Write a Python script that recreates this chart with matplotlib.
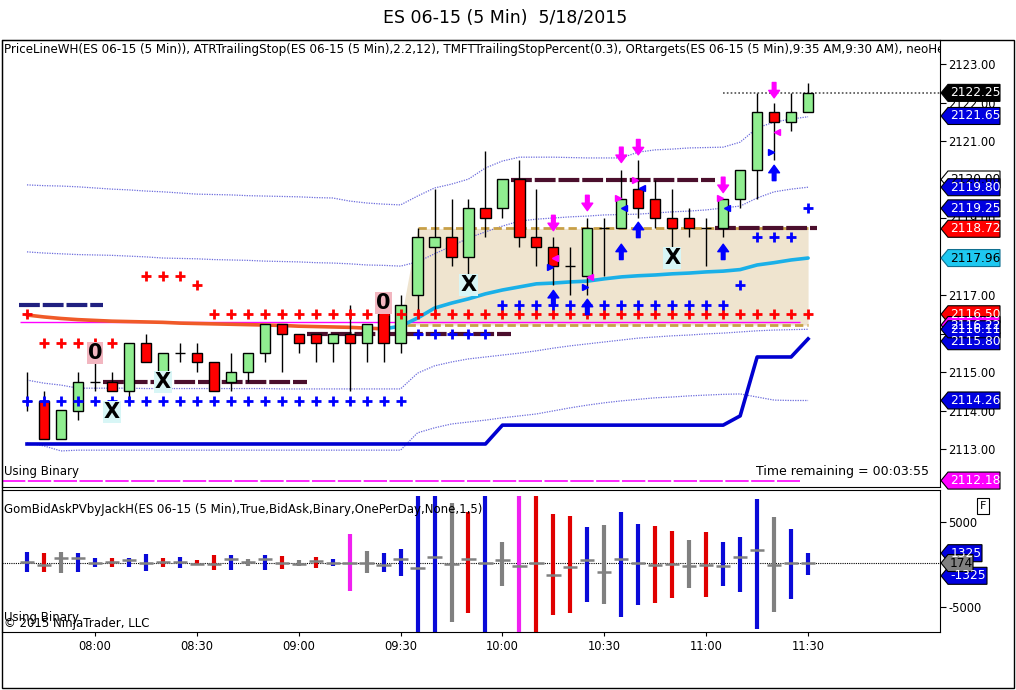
import matplotlib
matplotlib.use("Agg")
import matplotlib.pyplot as plt
import numpy as np
from matplotlib.patches import Rectangle, Polygon
from matplotlib.transforms import blended_transform_factory

plt.rcParams['font.family'] = ['DejaVu Sans']

# ---- price bars, 5 min, 07:40 .. 11:30 ----
opens = [2114.25, 2114.25, 2113.25, 2114.0, 2114.75, 2114.75, 2114.5, 2115.75, 2115.0, 2115.5,
         2115.5, 2115.25, 2114.75, 2115.0, 2115.5, 2116.25, 2116.0, 2116.0, 2115.75, 2116.0,
         2115.75, 2116.5, 2115.75, 2117.0, 2118.25, 2118.5, 2118.0, 2119.25, 2119.25, 2120.0,
         2118.5, 2118.25, 2117.75, 2117.5, 2118.75, 2118.75, 2119.75, 2119.5, 2119.0, 2119.0,
         2118.75, 2118.75, 2119.5, 2120.25, 2121.75, 2121.5, 2121.75]
highs = [2115.0, 2114.5, 2114.0, 2115.0, 2115.25, 2115.0, 2115.75, 2116.0, 2115.5, 2115.75,
         2115.75, 2115.25, 2115.5, 2115.5, 2116.25, 2116.25, 2116.0, 2116.0, 2116.0, 2116.75,
         2116.25, 2116.5, 2117.0, 2118.75, 2119.75, 2119.5, 2119.5, 2120.75, 2120.0, 2120.5,
         2119.75, 2118.5, 2118.25, 2119.0, 2119.0, 2120.25, 2120.5, 2120.0, 2119.75, 2119.25,
         2119.0, 2119.5, 2120.25, 2122.25, 2122.0, 2122.25, 2122.5]
lows = [2114.0, 2113.25, 2113.25, 2113.75, 2114.5, 2114.5, 2114.25, 2115.25, 2114.75, 2115.25,
        2115.0, 2114.5, 2114.5, 2114.75, 2115.25, 2115.0, 2115.5, 2115.25, 2115.25, 2114.5,
        2115.25, 2115.25, 2115.5, 2116.5, 2116.5, 2117.75, 2117.0, 2118.5, 2119.0, 2118.25,
        2117.75, 2117.25, 2117.0, 2117.0, 2117.5, 2118.75, 2119.0, 2118.75, 2118.0, 2118.5,
        2117.75, 2118.5, 2119.25, 2119.5, 2120.5, 2121.25, 2121.75]
closes = [2114.25, 2113.25, 2114.0, 2114.75, 2114.75, 2114.5, 2115.75, 2115.25, 2115.5, 2115.5,
          2115.25, 2114.5, 2115.0, 2115.5, 2116.25, 2116.0, 2115.75, 2115.75, 2116.0, 2115.75,
          2116.25, 2115.75, 2116.75, 2118.5, 2118.5, 2118.0, 2119.25, 2119.0, 2120.0, 2118.5,
          2118.25, 2117.75, 2117.75, 2118.75, 2118.75, 2119.5, 2119.25, 2119.0, 2118.75, 2118.75,
          2118.75, 2119.5, 2120.25, 2121.75, 2121.5, 2121.75, 2122.25]

tick_bars = [4, 10, 16, 22, 28, 34, 40, 46]
tick_labels = ['08:00', '08:30', '09:00', '09:30', '10:00', '10:30', '11:00', '11:30']

# ---- bands (dotted) ----
outer_upper = [2119.86, 2119.84, 2119.83, 2119.81, 2119.78, 2119.75, 2119.73, 2119.70, 2119.68, 2119.65,
               2119.62, 2119.61, 2119.60, 2119.58, 2119.57, 2119.56, 2119.55, 2119.53, 2119.52, 2119.44,
               2119.39, 2119.36, 2119.34, 2119.57, 2119.78, 2119.88, 2120.01, 2120.30, 2120.48, 2120.58,
               2120.58, 2120.58, 2120.57, 2120.56, 2120.56, 2120.56, 2120.71, 2120.77, 2120.79, 2120.82,
               2120.83, 2120.84, 2120.97, 2121.34, 2121.49, 2121.57, 2121.63]
inner_upper = [2118.12, 2118.09, 2118.07, 2118.05, 2118.04, 2118.03, 2118.01, 2117.99, 2117.96, 2117.95,
               2117.94, 2117.92, 2117.91, 2117.90, 2117.88, 2117.87, 2117.86, 2117.84, 2117.83, 2117.81,
               2117.78, 2117.77, 2117.75, 2117.86, 2118.07, 2118.27, 2118.48, 2118.64, 2118.79, 2118.92,
               2118.97, 2119.00, 2119.03, 2119.05, 2119.08, 2119.09, 2119.10, 2119.13, 2119.16, 2119.18,
               2119.21, 2119.26, 2119.31, 2119.52, 2119.68, 2119.75, 2119.80]
inner_lower = [2114.79, 2114.71, 2114.66, 2114.58, 2114.58, 2114.58, 2114.58, 2114.57, 2114.57, 2114.57,
               2114.57, 2114.57, 2114.57, 2114.57, 2114.57, 2114.56, 2114.56, 2114.56, 2114.56, 2114.56,
               2114.56, 2114.56, 2114.56, 2114.97, 2115.16, 2115.26, 2115.34, 2115.39, 2115.44, 2115.49,
               2115.55, 2115.62, 2115.68, 2115.73, 2115.78, 2115.83, 2115.88, 2115.91, 2115.94, 2115.96,
               2115.99, 2116.01, 2116.04, 2116.07, 2116.09, 2116.10, 2116.11]
outer_lower = [2113.16, 2113.08, 2112.95, 2112.97, 2112.97, 2112.97, 2112.97, 2112.97, 2112.97, 2112.97,
               2112.97, 2112.97, 2112.97, 2112.97, 2112.97, 2112.97, 2112.97, 2112.97, 2112.97, 2112.97,
               2112.97, 2112.97, 2112.97, 2113.42, 2113.55, 2113.65, 2113.70, 2113.75, 2113.81, 2113.86,
               2113.91, 2113.99, 2114.07, 2114.14, 2114.20, 2114.25, 2114.29, 2114.33, 2114.35, 2114.38,
               2114.40, 2114.42, 2114.43, 2114.35, 2114.27, 2114.26, 2114.26]

# moving average: falling part orange, rising part cyan (split at bar 21)
avg_line = [2116.48, 2116.43, 2116.39, 2116.36, 2116.34, 2116.32, 2116.31, 2116.30, 2116.29, 2116.27,
            2116.26, 2116.25, 2116.24, 2116.23, 2116.22, 2116.21, 2116.19, 2116.18, 2116.17, 2116.16,
            2116.14, 2116.12, 2116.19, 2116.40, 2116.66, 2116.79, 2116.90, 2117.03, 2117.13, 2117.21,
            2117.29, 2117.31, 2117.34, 2117.36, 2117.42, 2117.47, 2117.50, 2117.52, 2117.55, 2117.57,
            2117.60, 2117.62, 2117.66, 2117.78, 2117.84, 2117.91, 2117.96]
avg_split = 21

# ATR trailing stop (thick blue)
atr_stop = [2113.13] * 28 + [2113.62] * 14 + [2113.86, 2115.39, 2115.39, 2115.39, 2115.86]

# trailing stop crosses
nan = np.nan
blue_cross = [2114.25] * 23 + [2116.0] * 5 + [2116.75] * 14 + [2117.25, 2118.5, 2118.5, 2118.5, 2119.25]
red_cross = ([2116.5] + [2115.75] * 5 + [nan] + [2117.5] * 3 + [2117.25] + [2116.5] * 36)

# hourly price lines
pl_levels = [2116.75, 2114.75, 2116.0, 2120.0, 2118.73]
pl_start = [-0.5, 4.5, 16.5, 28.5, 40.5]
pl_end = [4.5, 16.5, 28.5, 40.5, 46.5]

# opening range
or_bars = list(range(22, 47))
or_high = [2116.3] + [2118.73] * 24
or_low = 2116.22
magenta_level = 2116.30
magenta_low = 2112.18
last_price = 2122.25

# markers
x_bars = [5, 8, 26, 38]
x_prices = [2113.96, 2114.74, 2117.26, 2117.96]
zero_bars = [4, 21]
zero_prices = [2115.49, 2116.79]
down_bars = [31, 33, 35, 36, 41, 44]
down_prices = [2118.87, 2119.39, 2120.64, 2120.84, 2119.86, 2122.32]
up_bars = [31, 33, 35, 36, 41, 44]
up_prices = [2116.92, 2116.69, 2118.12, 2118.69, 2118.12, 2120.17]
tri_pos = [34.81, 35.81, 40.81, 35.16, 36.22, 41.22, 31.10, 30.80, 33.16, 32.86, 44.17, 43.82]
tri_prices = [2119.52, 2119.99, 2119.52, 2119.26, 2119.78, 2119.26, 2117.96, 2117.73,
              2117.47, 2117.21, 2121.23, 2120.71]
tri_kind = ['m>', 'm>', 'm>', 'b<', 'b<', 'b<', 'm<', 'b>', 'm<', 'b>', 'm<', 'b>']

# right axis value flags
flag_values = [2112.18, 2114.26, 2116.50, 2116.22, 2115.80, 2116.11, 2117.96, 2118.72,
               2120.00, 2119.25, 2119.80, 2121.65, 2122.25]
flag_colors = ['#ff00ff', '#0000e0', '#ff0000', '#ff00ff', '#0000e0', '#0000e0', '#1ec8f0', '#ff0000',
               'white', '#0000e0', '#0000e0', '#0000e0', 'black']
flag_text = ['white', 'white', 'white', 'white', 'white', 'white', 'black', 'white',
             'black', 'white', 'white', 'white', 'white']

# ---- bid/ask volume panel ----
bid_top = [1500, 1313, 1500, 1313, 727, 727, 727, 1195, 727, 844,
           527, 1113, 1113, 645, 1113, 996, 527, 914, 645, 3540,
           1582, 1313, 1817, 8000, 8000, 7173, 6188, 8000, 2602, 8000,
           8000, 5919, 5719, 4395, 4594, 6200, 4723, 4512, 3915, 2836,
           3797, 2602, 3200, 7641, 5602, 4196, 1313]
bid_bot = [-914, -844, -1031, -844, -258, -258, -258, -727, -258, -375,
           23, -645, -645, -176, -645, -527, -176, -375, -141, -3106,
           -1031, -844, -1313, -8000, -8000, -6704, -5719, -8000, -2485, -8000,
           -8000, -5883, -5684, -4360, -4606, -6165, -4688, -4477, -3880, -2766,
           -3762, -2567, -3165, -7559, -5567, -4079, -1207]
bid_mark = [328, -59, 797, 797, 211, 328, 527, 211, 328, 328,
            59, 59, 609, 328, 609, 211, 59, 445, 211, 211,
            211, -59, 609, -445, 914, 59, 645, 211, 516, -164,
            199, -1207, -281, 516, -879, 598, 199, 0, 117, -164,
            0, -164, 832, 1723, 0, 199, 199]
bid_kind = ['b', 'r', 'g', 'b', 'b', 'r', 'b', 'b', 'r', 'b',
            'r', 'r', 'b', 'g', 'b', 'r', 'g', 'r', 'b', 'm',
            'g', 'b', 'b', 'b', 'b', 'g', 'r', 'b', 'g', 'm',
            'r', 'r', 'r', 'b', 'g', 'b', 'b', 'r', 'r', 'g',
            'r', 'b', 'b', 'b', 'g', 'b', 'b']
bid_ref = 174
bid_flag_values = [1325, -1325, 174]

# -------------------------------------------------------------------
W, H = 1016, 690
kind_colors = {'b': '#0a0ad8', 'r': '#e00000', 'g': '#808080', 'm': '#f020f0'}


def fx(px):
    return px / W


def fy(py):
    return 1 - py / H


def draw_flag(axis, value, text, face, tcolor, half_h, right_px=1000):
    tr = blended_transform_factory(axis.transAxes, axis.transData)
    x0 = (941 - 2) / 938
    x1 = (948 - 2) / 938
    x2 = (right_px - 2) / 938
    pts = [(x0, value), (x1, value + half_h), (x2, value + half_h),
           (x2, value - half_h), (x1, value - half_h)]
    edge = 'black' if face != '#1ec8f0' else '#107090'
    axis.add_patch(Polygon(pts, closed=True, transform=tr, facecolor=face, edgecolor=edge,
                           lw=0.8, clip_on=False, zorder=30))
    axis.text((x1 + x2) / 2 + 0.001, value, text, transform=tr, ha='center', va='center',
              color=tcolor, fontsize=8.8, clip_on=False, zorder=31)


fig = plt.figure(figsize=(W / 100, H / 100), dpi=100)
fig.text(fx(505), fy(18), 'ES 06-15 (5 Min)  5/18/2015', ha='center', va='center', fontsize=12.5)
fig.add_artist(Rectangle((fx(2), fy(688)), (1014 - 2) / W, (688 - 40) / H, transform=fig.transFigure,
                         fill=False, edgecolor='black', lw=1))

ax = fig.add_axes([fx(2), fy(487), 938 / W, 447 / H])
ax2 = fig.add_axes([fx(2), fy(632), 938 / W, 142 / H])

idx = np.arange(len(opens))
xlim = ((2 - 27) / 16.98, (940 - 27) / 16.98)

# opening range fill and dashed lines
ax.fill_between(or_bars, or_low, or_high, color='#efe4cf', lw=0, zorder=1)
ax.hlines(or_high[1], or_bars[1], or_bars[-1], colors='#c8a048', lw=2, linestyles=(0, (3, 1.5)), zorder=4)
ax.hlines(or_low, or_bars[0] + 0.4, or_bars[-1], colors='#c8a048', lw=2, linestyles=(0, (3, 1.5)), zorder=4)
ax.hlines(magenta_level, -0.4, 45.5, colors='#ff00ff', lw=1, zorder=4)
ax.hlines(magenta_low, xlim[0], 45.5, colors='#ff00ff', lw=1.2, linestyles=(0, (14, 1.5)), zorder=4)

# bands
for band in (outer_upper, inner_upper, inner_lower, outer_lower):
    ax.plot(idx, band, color='#6b6bdc', lw=0.9, ls=(0, (1, 1)), zorder=3)

# hourly lines
for k, (lv, a, b) in enumerate(zip(pl_levels, pl_start, pl_end)):
    col = '#202080' if k == 0 else '#4b0f2d'
    ax.hlines(lv, a, b, colors=col, lw=3, linestyles=(0, (5, 0.7)), zorder=4)

# average line and stop line
ax.plot(idx[:avg_split + 1], avg_line[:avg_split + 1], color='#f05a28', lw=2.6, zorder=4,
        solid_capstyle='round')
ax.plot(idx[avg_split:], avg_line[avg_split:], color='#1ab0e8', lw=2.6, zorder=4,
        solid_capstyle='round')
ax.plot(idx, atr_stop, color='#0000d0', lw=2.6, zorder=4)

ax.hlines(last_price, 41, xlim[1], colors='#505050', lw=1.2, linestyles=(0, (1, 1.3)), zorder=4)

# crosses
ax.plot(idx, red_cross, ls='none', marker='+', color='#ff0000', ms=7, mew=2, zorder=7)
ax.plot(idx, blue_cross, ls='none', marker='+', color='#0000ff', ms=7, mew=2, zorder=7)

# candles
bw = 0.6
for i in idx:
    ax.vlines(i, lows[i], highs[i], colors='black', lw=1, zorder=5)
    o, c = opens[i], closes[i]
    if c > o:
        ax.add_patch(Rectangle((i - bw / 2, o), bw, c - o, facecolor='#90ee90', edgecolor='black',
                               lw=1, zorder=6))
    elif c < o:
        ax.add_patch(Rectangle((i - bw / 2, c), bw, o - c, facecolor='#ff0000', edgecolor='black',
                               lw=1, zorder=6))
    else:
        ax.hlines(o, i - bw / 2, i + bw / 2, colors='black', lw=1, zorder=6)

# signals
for b, p in zip(x_bars, x_prices):
    ax.text(b, p, 'X', ha='center', va='center', fontsize=15, fontweight='bold', zorder=9,
            bbox=dict(boxstyle='square,pad=0.05', facecolor='#d8f6f6', edgecolor='none'))
for b, p in zip(zero_bars, zero_prices):
    ax.text(b, p, '0', ha='center', va='center', fontsize=15, fontweight='bold', zorder=9,
            bbox=dict(boxstyle='square,pad=0.05', facecolor='#f2b6c0', edgecolor='none'))
arrow_style = 'simple,head_length=0.45,head_width=0.65,tail_width=0.22'
for b, p in zip(down_bars, down_prices):
    ax.annotate('', xy=(b, p - 0.2), xytext=(b, p + 0.2), zorder=8,
                arrowprops=dict(arrowstyle=arrow_style, mutation_scale=12, fc='#ff00ff', ec='#ff00ff',
                                shrinkA=0, shrinkB=0))
for b, p in zip(up_bars, up_prices):
    ax.annotate('', xy=(b, p + 0.2), xytext=(b, p - 0.2), zorder=8,
                arrowprops=dict(arrowstyle=arrow_style, mutation_scale=12, fc='#0000ff', ec='#0000ff',
                                shrinkA=0, shrinkB=0))
for xp, p, k in zip(tri_pos, tri_prices, tri_kind):
    ax.plot(xp, p, marker=k[1], color='#ff00ff' if k[0] == 'm' else '#0000ff', ms=5, zorder=8)

# texts
ax.text(2 / 938, 1 - 9 / 447, 'PriceLineWH(ES 06-15 (5 Min)), ATRTrailingStop(ES 06-15 (5 Min),2.2,12), '
        'TMFTTrailingStopPercent(0.3), ORtargets(ES 06-15 (5 Min),9:35 AM,9:30 AM), neoHeikenAshi',
        transform=ax.transAxes, ha='left', va='center', fontsize=8.6, clip_on=True, zorder=10)
ax.text(2 / 938, 16 / 447, 'Using Binary', transform=ax.transAxes, ha='left', va='center', fontsize=8.5)
ax.text(927 / 938, 16 / 447, 'Time remaining = 00:03:55', transform=ax.transAxes, ha='right',
        va='center', fontsize=9)

ax.set_xlim(xlim)
ax.set_ylim(2123 - 423 / 38.5, 2123 + 24 / 38.5)
ax.set_xticks([])
ax.yaxis.tick_right()
ax.set_yticks(np.arange(2113, 2124, 1.0))
ax.set_yticklabels(['%.2f' % v for v in np.arange(2113, 2124, 1.0)])
ax.tick_params(axis='y', direction='out', length=4, labelsize=8.3, pad=2)

for v, fc, tc in zip(flag_values, flag_colors, flag_text):
    draw_flag(ax, v, '%.2f' % v, fc, tc, 8.5 / 38.5)

# ---- lower panel ----
bcols = [kind_colors[k] for k in bid_kind]
ax2.axhline(bid_ref, color='black', lw=0.8, ls=(0, (1, 1)), zorder=1)
ax2.vlines(idx, bid_bot, bid_top, colors=bcols, lw=3, zorder=3)
ax2.hlines(bid_mark, idx - 0.42, idx + 0.42, colors='#808080', lw=1.8, zorder=4)

ax2.text(2 / 938, 1 - 19 / 142, 'GomBidAskPVbyJackH(ES 06-15 (5 Min),True,BidAsk,Binary,OnePerDay,None,1,5)',
         transform=ax2.transAxes, ha='left', va='center', fontsize=8.5, zorder=10)
ax2.text(2 / 938, 14 / 142, 'Using Binary', transform=ax2.transAxes, ha='left', va='center', fontsize=8.5)
ax2.text(2 / 938, 8 / 142, '\u00a9 2015 NinjaTrader, LLC', transform=ax2.transAxes, ha='left',
         va='center', fontsize=8.5)

ax2.set_xlim(xlim)
ax2.set_ylim((564.5 - 632) * 117.2, (564.5 - 490) * 117.2)
ax2.yaxis.tick_right()
ax2.set_yticks([5000, -5000])
ax2.set_yticklabels(['5000', '-5000'])
ax2.set_xticks(tick_bars)
ax2.set_xticklabels(tick_labels)
ax2.tick_params(axis='y', direction='out', length=4, labelsize=8.3, pad=2)
ax2.tick_params(axis='x', direction='out', length=3, labelsize=8.3, pad=3)

for v, fc, tc, r in zip(bid_flag_values, ['#0000e0', '#0000e0', '#808080'], ['white', 'white', 'black'],
                        [982, 987, 973]):
    draw_flag(ax2, v, str(v), fc, tc, 8.5 * 117.2, right_px=r)

fig.text(fx(983), fy(506), 'F', ha='center', va='center', fontsize=8,
         bbox=dict(boxstyle='square,pad=0.25', facecolor='white', edgecolor='black', lw=0.8))

fig.savefig('out.png', dpi=100)
